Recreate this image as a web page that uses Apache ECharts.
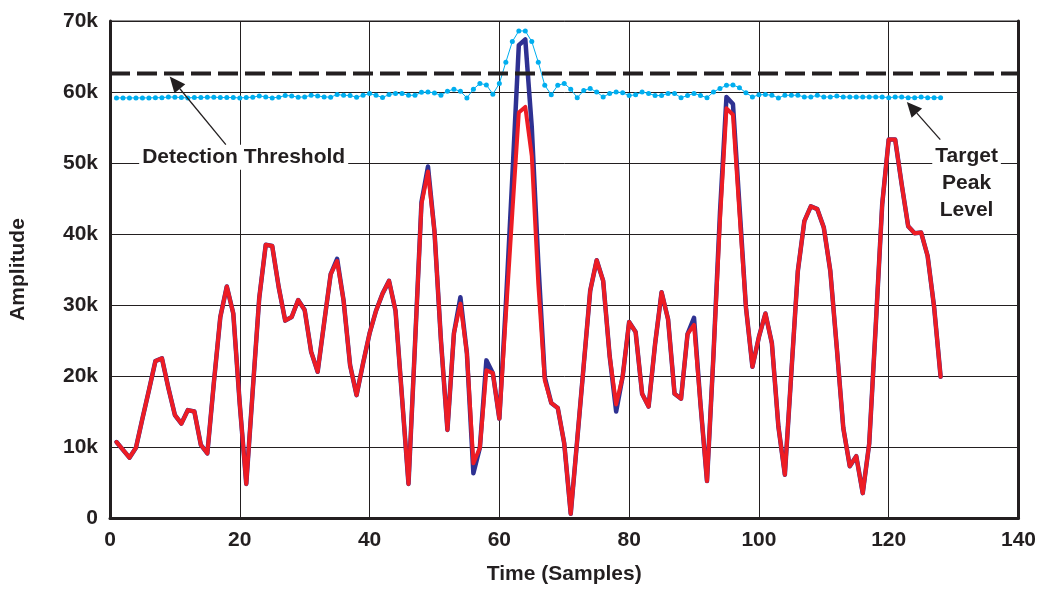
<!DOCTYPE html>
<html><head><meta charset="utf-8">
<script src="https://cdn.jsdelivr.net/npm/echarts@6/dist/echarts.min.js"></script>
<style>html,body{margin:0;padding:0;background:#fff}#c{width:1039px;height:590px}</style>
</head><body><div id="c"></div>
<script>
// Amplitudes in thousands, samples 1..128
const redSignal = [10.7,9.6,8.5,9.9,14.0,18.0,22.1,22.5,18.3,14.5,
 13.3,15.2,15.0,10.3,9.1,19.0,28.3,32.6,28.8,16.0,
 4.8,18.0,31.0,38.5,38.3,32.5,27.8,28.3,30.7,29.3,
 23.4,20.6,27.5,34.3,36.2,30.6,21.5,17.3,21.8,26.0,
 29.2,31.6,33.4,29.2,17.0,4.8,24.4,44.2,48.8,40.4,
 25.0,12.4,26.0,30.2,23.2,7.7,9.9,20.8,20.4,14.0,
 28.5,43.0,57.1,57.9,51.0,33.0,19.4,16.2,15.5,10.5,
 0.6,11.0,21.5,32.0,36.3,33.4,22.8,16.0,19.9,27.6,
 26.2,17.5,15.7,24.5,31.8,28.0,17.5,16.8,25.9,27.2,
 16.0,5.2,23.0,42.0,57.7,56.8,43.0,29.7,21.3,25.5,
 28.8,24.6,12.9,6.1,20.5,34.8,41.8,43.9,43.5,40.9,
 34.8,24.0,12.7,7.3,8.7,3.5,10.5,27.0,44.2,53.3,
 53.3,47.0,41.1,40.1,40.2,36.9,29.7,19.9];
const navySignal = [10.7,9.6,8.5,9.9,14.0,18.0,22.1,22.5,18.3,14.5,
 13.3,15.2,15.0,10.3,9.1,19.0,28.3,32.6,28.8,16.0,
 4.8,18.0,31.0,38.5,38.3,32.5,27.8,28.3,30.7,29.3,
 23.4,20.6,27.5,34.3,36.5,30.6,21.5,17.3,21.8,26.0,
 29.2,31.6,33.4,29.2,17.0,4.8,24.4,44.5,49.5,40.4,
 25.0,12.4,26.0,31.1,23.2,6.3,9.9,22.2,20.4,14.0,
 30.0,48.0,66.6,67.4,55.0,36.0,19.8,16.2,15.5,10.5,
 0.6,11.0,21.5,32.0,36.3,33.4,22.8,15.0,19.9,27.6,
 26.2,17.5,15.7,24.5,31.8,28.0,17.5,16.8,25.9,28.2,
 16.0,5.2,23.0,43.0,59.3,58.3,44.0,29.7,21.3,25.5,
 28.8,24.6,12.9,6.1,20.5,34.8,41.8,43.9,43.5,40.9,
 34.8,24.0,12.7,7.3,8.7,3.5,10.5,27.0,44.2,53.3,
 53.3,47.0,41.1,40.1,40.2,36.9,29.7,19.9];
const peakLevel = [59.17,59.17,59.17,59.17,59.17,59.17,59.2,59.2,59.3,59.27,
 59.22,59.17,59.22,59.22,59.27,59.27,59.22,59.22,59.22,59.17,
 59.22,59.27,59.45,59.31,59.17,59.27,59.5,59.45,59.27,59.31,
 59.54,59.45,59.31,59.27,59.64,59.54,59.5,59.27,59.54,59.78,
 59.54,59.22,59.64,59.8,59.78,59.54,59.54,59.95,60.0,59.87,
 59.54,60.1,60.4,60.1,59.17,60.4,61.2,61.0,59.7,61.2,
 64.2,67.1,68.6,68.6,67.1,64.2,60.95,59.6,60.95,61.2,
 60.4,59.2,60.2,60.5,60.0,59.3,59.8,60.0,59.9,59.5,
 59.6,60.0,59.8,59.5,59.5,59.8,59.8,59.2,59.5,59.8,
 59.5,59.2,60.0,60.5,60.95,61.0,60.6,59.9,59.3,59.6,
 59.64,59.54,59.17,59.54,59.54,59.54,59.3,59.3,59.54,59.3,
 59.3,59.45,59.3,59.3,59.3,59.3,59.3,59.3,59.3,59.2,
 59.3,59.3,59.2,59.2,59.3,59.2,59.2,59.2];
const thresholdLevel = 62.6;
const xRange = [0, 140];
const yRange = [0, 70];
const labelDetection = 'Detection Threshold';
const labelTarget = 'Target\nPeak\nLevel';
const xTitle = 'Time (Samples)';
const yTitle = 'Amplitude';

const pairs = arr => arr.map((v, i) => [i + 1, v]);
const INK = '#231f20';
const FONT = '"Liberation Sans", Arial, sans-serif';
const FS = 21;

const chart = echarts.init(document.getElementById('c'), null, {renderer: 'canvas'});
const option = {
  animation: false,
  backgroundColor: '#fff',
  grid: {left: 110, right: 18, top: 21, bottom: 66, show: true, borderColor: INK, borderWidth: 1},
  xAxis: {
    type: 'value', min: xRange[0], max: xRange[1], interval: 20,
    axisLine: {show: true, lineStyle: {color: INK, width: 3}},
    axisTick: {show: false},
    splitLine: {show: true, lineStyle: {color: INK, width: 1}},
    axisLabel: {color: INK, fontSize: FS, fontWeight: 'bold', fontFamily: FONT, margin: 12},
    name: xTitle, nameLocation: 'middle', nameGap: 46,
    nameTextStyle: {color: INK, fontSize: FS, fontWeight: 'bold', fontFamily: FONT}
  },
  yAxis: [{
    type: 'value', min: yRange[0], max: yRange[1], interval: 10,
    axisLine: {show: true, lineStyle: {color: INK, width: 3}},
    axisTick: {show: false},
    splitLine: {show: true, lineStyle: {color: INK, width: 1}},
    axisLabel: {color: INK, fontSize: FS, fontWeight: 'bold', fontFamily: FONT, margin: 12,
      formatter: v => v === 0 ? '0' : v + 'k'},
    name: yTitle, nameLocation: 'middle', nameGap: 81, nameRotate: 90,
    nameTextStyle: {color: INK, fontSize: FS, fontWeight: 'bold', fontFamily: FONT}
  }, {
    type: 'value', min: yRange[0], max: yRange[1], interval: 10, position: 'right',
    axisLine: {show: true, lineStyle: {color: INK, width: 3}},
    axisTick: {show: false}, axisLabel: {show: false}, splitLine: {show: false}
  }],
  series: [
    {type: 'line', name: 'peak', data: pairs(peakLevel), symbol: 'circle', symbolSize: 5,
      lineStyle: {color: '#00aeef', width: 1}, itemStyle: {color: '#00aeef'}, z: 3},
    {type: 'line', name: 'navy', data: pairs(navySignal), symbol: 'none',
      lineStyle: {color: '#2e3192', width: 4.5, join: 'round', cap: 'round'}, z: 4},
    {type: 'line', name: 'red', data: pairs(redSignal), symbol: 'none',
      lineStyle: {color: '#ed1c24', width: 4, join: 'round', cap: 'round'}, z: 5},
    {type: 'line', name: 'threshold', data: [[xRange[0], thresholdLevel], [xRange[1], thresholdLevel]],
      symbol: 'none', lineStyle: {color: INK, width: 4, type: [20, 7]}, z: 6}
  ]
};
chart.setOption(option);

const px = p => chart.convertToPixel({gridIndex: 0}, p);
function arrow(tail, tip, len, half) {
  const a = px(tail), b = px(tip);
  const dx = a[0] - b[0], dy = a[1] - b[1];
  const d = Math.hypot(dx, dy), ux = dx / d, uy = dy / d;
  const bx = b[0] + ux * len, by = b[1] + uy * len;
  return [
    {type: 'line', z: 50, shape: {x1: a[0], y1: a[1], x2: bx, y2: by}, style: {stroke: INK, lineWidth: 1.3}},
    {type: 'polygon', z: 50, shape: {points: [[b[0], b[1]], [bx - uy * half, by + ux * half], [bx + uy * half, by - ux * half]]},
      style: {fill: INK}}
  ];
}
const tDet = px([20.6, 50.8]);
const tTar = px([132, 47.2]);
chart.setOption({
  graphic: [
    ...arrow([17.85, 52.6], [9.2, 62.2], 16, 7),
    ...arrow([127.95, 53.3], [122.8, 58.6], 15, 7),
    {type: 'text', z: 40, x: tDet[0], y: tDet[1], style: {text: labelDetection, fill: INK,
      font: 'bold ' + FS + 'px ' + FONT, align: 'center', verticalAlign: 'middle', backgroundColor: '#fff', padding: [2, 3]}},
    {type: 'text', z: 40, x: tTar[0], y: tTar[1], style: {text: labelTarget, fill: INK,
      font: 'bold ' + FS + 'px ' + FONT, align: 'center', verticalAlign: 'middle', lineHeight: 27, backgroundColor: '#fff', padding: [2, 3]}}
  ]
});
</script></body></html>
